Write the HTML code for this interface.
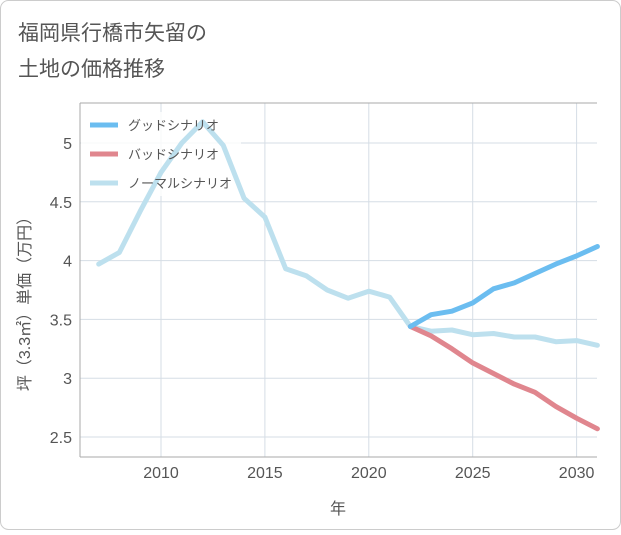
<!DOCTYPE html>
<html><head><meta charset="utf-8"><style>
body{margin:0;background:#fff;}
#wrap{width:621px;height:530px;position:relative;font-family:"Liberation Sans","Noto Sans CJK JP",sans-serif;}
</style></head><body>
<div id="wrap">
<svg id="chart" width="621" height="530" xmlns="http://www.w3.org/2000/svg">
<rect x="0.5" y="0.5" width="620" height="529" rx="8" fill="#fff" stroke="#ccc"/>
<text x="18" y="40" font-size="21" fill="#555">福岡県行橋市矢留の</text>
<text x="18" y="76" font-size="21" fill="#555">土地の価格推移</text>
<g id="grid"></g>
<g id="lines"></g>
<g id="legend"></g>
</svg>
</div>
<script>
const years=[2007,2008,2009,2010,2011,2012,2013,2014,2015,2016,2017,2018,2019,2020,2021,2022,2023,2024,2025,2026,2027,2028,2029,2030,2031];
const normal=[3.97,4.07,4.42,4.75,5.0,5.18,4.98,4.53,4.37,3.93,3.87,3.75,3.68,3.74,3.69,3.44,3.40,3.41,3.37,3.38,3.35,3.35,3.31,3.32,3.28];
const futureYears=[2022,2023,2024,2025,2026,2027,2028,2029,2030,2031];
const good=[3.44,3.54,3.57,3.64,3.76,3.81,3.89,3.97,4.04,4.12];
const bad=[3.44,3.36,3.25,3.13,3.04,2.95,2.88,2.76,2.66,2.57];
const xTicks=[2010,2015,2020,2025,2030];
const yTicks=[2.5,3,3.5,4,4.5,5];
const yTickLabels=["2.5","3","3.5","4","4.5","5"];
const L=80,R=597,T=103,B=457;
const X=y=>161+(y-2010)*20.78;
const Y=v=>143+(5-v)*117.6;
const NS="http://www.w3.org/2000/svg";
function mk(tag,attrs,parent){const e=document.createElementNS(NS,tag);for(const k in attrs)e.setAttribute(k,attrs[k]);parent.appendChild(e);return e;}
const g=document.getElementById('grid');
mk('rect',{x:L,y:T,width:R-L,height:B-T,fill:'#fff',stroke:'none'},g);
xTicks.forEach(t=>{
  const l=mk('line',{x1:X(t),x2:X(t),y1:T,y2:B,stroke:'#d5dde5'},g);
  
  
  const tx=mk('text',{x:X(t),y:B+21,'font-size':16,fill:'#555','text-anchor':'middle'},g);tx.textContent=t;
  
  
});
yTicks.forEach((t,i)=>{
  const l=mk('line',{x1:L,x2:R,y1:Y(t),y2:Y(t),stroke:'#d5dde5'},g);
  
  
  const tx=mk('text',{x:L-8,y:Y(t)+6,'font-size':16,fill:'#555','text-anchor':'end'},g);tx.textContent=yTickLabels[i];
  
  
});
mk('line',{x1:L,x2:R,y1:T,y2:T,stroke:'#aaa'},g);
mk('line',{x1:L,x2:L,y1:T,y2:B,stroke:'#aaa'},g);
mk('line',{x1:L,x2:R,y1:B,y2:B,stroke:'#aaa'},g);
const xt=mk('text',{x:338,y:514,'font-size':16,fill:'#555','text-anchor':'middle'},g);xt.textContent='年';


const yt=mk('text',{x:0,y:0,'font-size':16,fill:'#555','text-anchor':'middle',transform:'translate(30,300) rotate(-90)'},g);yt.textContent='坪（3.3㎡）単価（万円）';


// legend
const lg=document.getElementById('legend');
const items=[['グッドシナリオ','#6bbdf0'],['バッドシナリオ','#e0868e'],['ノーマルシナリオ','#bde0ee']];
const lines=document.getElementById('lines');
function path(xs,vs,color,name){
  const d=xs.map((x,i)=>(i?'L':'M')+X(x).toFixed(1)+','+Y(vs[i]).toFixed(1)).join(' ');
  const p=mk('path',{d:d,fill:'none',stroke:color,'stroke-width':5,'stroke-linejoin':'round','stroke-linecap':'round'},lines);
  
  
}
const lgbg=mk('rect',{x:L+1,y:112,width:160,height:84,fill:'#fff','fill-opacity':0.8},lines);
path(years,normal,'#bde0ee','normal-scenario-line');
path(futureYears,bad,'#e0868e','bad-scenario-line');
path(futureYears,good,'#6bbdf0','good-scenario-line');
items.forEach((it,i)=>{
  const y=125+i*29;
  const gi=mk('g',{},lg);
  
  
  mk('line',{x1:90,x2:118,y1:y,y2:y,stroke:it[1],'stroke-width':5},gi);
  const t=mk('text',{x:128,y:y+5,'font-size':13,fill:'#555'},gi);t.textContent=it[0];
});
</script>
</body></html>
